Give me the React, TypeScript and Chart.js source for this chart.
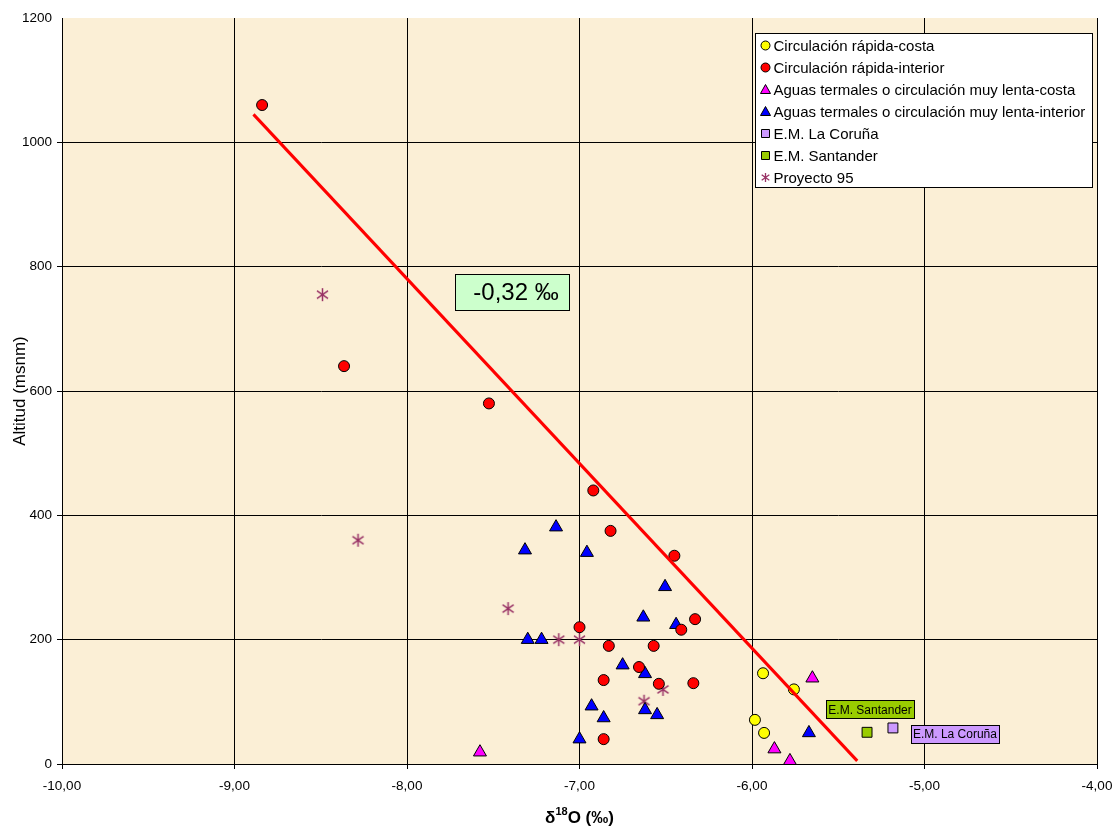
import React, { useEffect, useRef } from 'react';
import { Chart, registerables } from 'chart.js';

Chart.register(...registerables);

// ---- Data ----
const xTickValues = [-10, -9, -8, -7, -6, -5, -4];
const yTickValues = [0, 200, 400, 600, 800, 1000, 1200];

const rapidaCostaX = [-5.936, -5.757, -5.983, -5.93];
const rapidaCostaY = [146, 120, 71, 50];

const rapidaInteriorX = [-8.84, -8.365, -7.525, -6.92, -6.82, -6.45, -7.0, -6.83, -6.57, -6.33, -6.41, -6.655, -6.86, -6.54, -6.34, -6.86];
const rapidaInteriorY = [1060, 640, 580, 440, 375, 335, 220, 190, 190, 233, 216, 156, 135, 129, 130, 40];

const termalCostaX = [-7.577, -5.87, -5.78, -5.65];
const termalCostaY = [19, 24, 5, 138];

const termalInteriorX = [-7.136, -7.316, -6.957, -6.504, -6.63, -6.44, -7.3, -7.22, -6.75, -6.62, -6.93, -6.86, -6.62, -6.55, -7.0, -5.67];
const termalInteriorY = [381, 344, 340, 285, 236, 224, 200, 200, 159, 145, 93, 74, 87, 79, 40, 50];

const coruñaX = [-5.183];
const coruñaY = [58];

const santanderX = [-5.333];
const santanderY = [51];

const proyecto95X = [-8.49, -8.284, -7.414, -7.12, -7.0, -6.626, -6.516];
const proyecto95Y = [755, 360, 250, 200, 200, 101, 120];

const trendX = [-8.89, -5.39];
const trendY = [1045, 5];

const gradientLabel = '-0,32 ‰';
const gradientLabelX = -7.391;
const gradientLabelY = 759;

const seriesNames = [
  'Circulación rápida-costa',
  'Circulación rápida-interior',
  'Aguas termales o circulación muy lenta-costa',
  'Aguas termales o circulación muy lenta-interior',
  'E.M. La Coruña',
  'E.M. Santander',
  'Proyecto 95',
];

const COLORS = {
  yellow: '#ffff00',
  red: '#ff0000',
  magenta: '#ff00ff',
  blue: '#0000ff',
  lavender: '#cc99ff',
  green: '#99cc00',
  plum: '#993366',
};

const FONT = '"Liberation Sans", Arial, sans-serif';

function zip(xs: number[], ys: number[]) {
  return xs.map((x, i) => ({ x, y: ys[i] }));
}

function makeStar(size: number, color: string, lw: number) {
  const c = document.createElement('canvas');
  c.width = size;
  c.height = size;
  const g = c.getContext('2d')!;
  const m = size / 2;
  const r = size / 2 - 1;
  g.strokeStyle = color;
  g.lineWidth = lw;
  g.beginPath();
  g.moveTo(m, m - r);
  g.lineTo(m, m + r);
  const d = r * 0.85;
  g.moveTo(m - d, m - d * 0.7);
  g.lineTo(m + d, m + d * 0.7);
  g.moveTo(m + d, m - d * 0.7);
  g.lineTo(m - d, m + d * 0.7);
  g.stroke();
  return c;
}

function fmtX(v: number) {
  return v.toFixed(2).replace('.', ',');
}

function drawMarker(ctx: CanvasRenderingContext2D, kind: string, x: number, y: number, fill: string, r: number, star?: HTMLCanvasElement) {
  ctx.save();
  ctx.fillStyle = fill;
  ctx.strokeStyle = '#000';
  ctx.lineWidth = 1;
  ctx.beginPath();
  if (kind === 'circle') {
    ctx.arc(x, y, r, 0, Math.PI * 2);
    ctx.fill();
    ctx.stroke();
  } else if (kind === 'triangle') {
    ctx.moveTo(x, y - r);
    ctx.lineTo(x + r, y + r * 0.8);
    ctx.lineTo(x - r, y + r * 0.8);
    ctx.closePath();
    ctx.fill();
    ctx.stroke();
  } else if (kind === 'rect') {
    ctx.rect(x - r, y - r, 2 * r, 2 * r);
    ctx.fill();
    ctx.stroke();
  } else if (kind === 'star' && star) {
    ctx.drawImage(star, x - star.width / 2, y - star.height / 2);
  }
  ctx.restore();
}

export default function App() {
  const ref = useRef<HTMLCanvasElement | null>(null);

  useEffect(() => {
    const canvas = ref.current;
    if (!canvas) return;
    const star = makeStar(15, COLORS.plum, 1.5);
    const legendStar = makeStar(11, COLORS.plum, 1.3);

    const decor = {
      id: 'decor',
      beforeDraw(chart: any) {
        const { ctx, chartArea: a } = chart;
        ctx.save();
        ctx.fillStyle = '#ffffff';
        ctx.fillRect(0, 0, chart.width, chart.height);
        ctx.fillStyle = '#fbefd6';
        ctx.fillRect(a.left, a.top, a.right - a.left, a.bottom - a.top);
        ctx.restore();
      },
      afterDraw(chart: any) {
        const { ctx, chartArea: a, scales } = chart;
        const sx = scales.x;
        const sy = scales.y;
        ctx.save();

        // gradient label
        {
          const cx = sx.getPixelForValue(gradientLabelX);
          const cy = sy.getPixelForValue(gradientLabelY);
          const w = 114, h = 36;
          ctx.fillStyle = '#ccffcc';
          ctx.fillRect(Math.round(cx - w / 2) + 0.5, Math.round(cy - h / 2) + 0.5, w, h);
          ctx.strokeStyle = '#000';
          ctx.lineWidth = 1;
          ctx.strokeRect(Math.round(cx - w / 2) + 0.5, Math.round(cy - h / 2) + 0.5, w, h);
          ctx.fillStyle = '#000';
          ctx.font = `24px ${FONT}`;
          ctx.textAlign = 'center';
          ctx.textBaseline = 'middle';
          ctx.fillText(gradientLabel, cx + 4, cy + 1);
        }

        // point data labels
        const boxLabel = (text: string, px: number, py: number, fill: string) => {
          ctx.font = `12px ${FONT}`;
          const w = 88, h = 18;
          const l = Math.round(px - w / 2) + 0.5;
          const t = Math.round(py - h / 2) + 0.5;
          ctx.fillStyle = fill;
          ctx.fillRect(l, t, w, h);
          ctx.strokeStyle = '#000';
          ctx.lineWidth = 1;
          ctx.strokeRect(l, t, w, h);
          ctx.fillStyle = '#000';
          ctx.textAlign = 'center';
          ctx.textBaseline = 'middle';
          ctx.fillText(text, px, py + 1);
        };
        boxLabel(seriesNames[5], sx.getPixelForValue(santanderX[0]) + 3, sy.getPixelForValue(santanderY[0]) - 23, COLORS.green);
        boxLabel(seriesNames[4], sx.getPixelForValue(coruñaX[0]) + 62, sy.getPixelForValue(coruñaY[0]) + 6, COLORS.lavender);

        // legend
        {
          const L = a.right - 341.5;
          const T = a.top + 15.5;
          const W = 337, H = 154;
          ctx.fillStyle = '#ffffff';
          ctx.fillRect(L, T, W, H);
          ctx.strokeStyle = '#000';
          ctx.lineWidth = 1;
          ctx.strokeRect(L, T, W, H);
          const kinds = ['circle', 'circle', 'triangle', 'triangle', 'rect', 'rect', 'star'];
          const fills = [COLORS.yellow, COLORS.red, COLORS.magenta, COLORS.blue, COLORS.lavender, COLORS.green, COLORS.plum];
          const radii = [4.5, 4.5, 5, 5, 4, 4, 0];
          ctx.font = `15px ${FONT}`;
          ctx.textAlign = 'left';
          ctx.textBaseline = 'middle';
          for (let i = 0; i < seriesNames.length; i++) {
            const y = T + 12 + i * 22;
            drawMarker(ctx, kinds[i], L + 10, y, fills[i], radii[i], legendStar);
            ctx.fillStyle = '#000';
            ctx.fillText(seriesNames[i], L + 18, y + 1);
          }
        }

        // x axis title with superscript
        {
          const main1 = 'δ';
          const sup = '18';
          const main2 = 'O (‰)';
          ctx.fillStyle = '#000';
          ctx.textBaseline = 'alphabetic';
          ctx.textAlign = 'left';
          ctx.font = `bold 17px ${FONT}`;
          const w1 = ctx.measureText(main1).width;
          const w3 = ctx.measureText(main2).width;
          ctx.font = `bold 11px ${FONT}`;
          const w2 = ctx.measureText(sup).width;
          const total = w1 + w2 + w3;
          const cx = (a.left + a.right) / 2;
          const base = 823;
          let x = cx - total / 2;
          ctx.font = `bold 17px ${FONT}`;
          ctx.fillText(main1, x, base);
          x += w1;
          ctx.font = `bold 11px ${FONT}`;
          ctx.fillText(sup, x, base - 8);
          x += w2;
          ctx.font = `bold 17px ${FONT}`;
          ctx.fillText(main2, x, base);
        }
        ctx.restore();
      },
    };

    const chart = new Chart(canvas, {
      type: 'scatter',
      data: {
        datasets: [
          {
            label: 'Tendencia',
            type: 'line',
            data: zip(trendX, trendY),
            borderColor: COLORS.red,
            borderWidth: 3,
            pointRadius: 0,
            fill: false,
            showLine: true,
          } as any,
          {
            label: seriesNames[0],
            data: zip(rapidaCostaX, rapidaCostaY),
            pointStyle: 'circle',
            pointRadius: 5.5,
            backgroundColor: COLORS.yellow,
            borderColor: '#000',
            borderWidth: 1,
          },
          {
            label: seriesNames[1],
            data: zip(rapidaInteriorX, rapidaInteriorY),
            pointStyle: 'circle',
            pointRadius: 5.5,
            backgroundColor: COLORS.red,
            borderColor: '#000',
            borderWidth: 1,
          },
          {
            label: seriesNames[2],
            data: zip(termalCostaX, termalCostaY),
            pointStyle: 'triangle',
            pointRadius: 7.5,
            backgroundColor: COLORS.magenta,
            borderColor: '#000',
            borderWidth: 1,
          },
          {
            label: seriesNames[3],
            data: zip(termalInteriorX, termalInteriorY),
            pointStyle: 'triangle',
            pointRadius: 7.5,
            backgroundColor: COLORS.blue,
            borderColor: '#000',
            borderWidth: 1,
          },
          {
            label: seriesNames[4],
            data: zip(coruñaX, coruñaY),
            pointStyle: 'rect',
            pointRadius: 7,
            backgroundColor: COLORS.lavender,
            borderColor: '#000',
            borderWidth: 1,
          },
          {
            label: seriesNames[5],
            data: zip(santanderX, santanderY),
            pointStyle: 'rect',
            pointRadius: 7,
            backgroundColor: COLORS.green,
            borderColor: '#000',
            borderWidth: 1,
          },
          {
            label: seriesNames[6],
            data: zip(proyecto95X, proyecto95Y),
            pointStyle: star as any,
            pointRadius: 7,
          },
        ],
      },
      options: {
        responsive: false,
        animation: false,
        devicePixelRatio: 1,
        layout: { padding: { left: 0, right: 21, top: 18, bottom: 0 } },
        plugins: {
          legend: { display: false },
          tooltip: { enabled: false },
          title: { display: false },
        },
        scales: {
          x: {
            type: 'linear',
            min: -10,
            max: -4,
            afterBuildTicks: (s: any) => {
              s.ticks = xTickValues.map((v) => ({ value: v }));
            },
            afterFit: (s: any) => {
              s.height = 829 - 18 - 746;
              s.paddingLeft = 0;
              s.paddingRight = 0;
            },
            ticks: {
              callback: (v: any) => fmtX(Number(v)),
              color: '#000',
              font: { family: FONT, size: 13.5 },
              padding: 9,
              maxRotation: 0,
            },
            grid: {
              color: '#000',
              lineWidth: 1,
              tickLength: 5,
              drawTicks: true,
            },
            border: { color: '#000', width: 1 },
            title: { display: false },
          },
          y: {
            type: 'linear',
            min: 0,
            max: 1200,
            afterBuildTicks: (s: any) => {
              s.ticks = yTickValues.map((v) => ({ value: v }));
            },
            afterFit: (s: any) => {
              s.width = 62;
              s.paddingTop = 0;
              s.paddingBottom = 0;
            },
            ticks: {
              callback: (v: any) => String(v),
              color: '#000',
              font: { family: FONT, size: 13.5 },
              padding: 5,
            },
            grid: {
              color: (c: any) => (c.tick && c.tick.value === 1200 ? 'rgba(0,0,0,0)' : '#000'),
              lineWidth: 1,
              tickLength: 5,
              drawTicks: true,
            },
            border: { color: '#000', width: 1 },
            title: {
              display: true,
              text: 'Altitud (msnm)',
              color: '#000',
              font: { family: FONT, size: 17 },
              padding: { top: 10, bottom: 0 },
            },
          },
        },
      },
      plugins: [decor],
    });

    return () => chart.destroy();
  }, []);

  return (
    <div style={{ position: 'absolute', left: 0, top: 0, width: 1118, height: 829 }}>
      <canvas ref={ref} width={1118} height={829} />
    </div>
  );
}
